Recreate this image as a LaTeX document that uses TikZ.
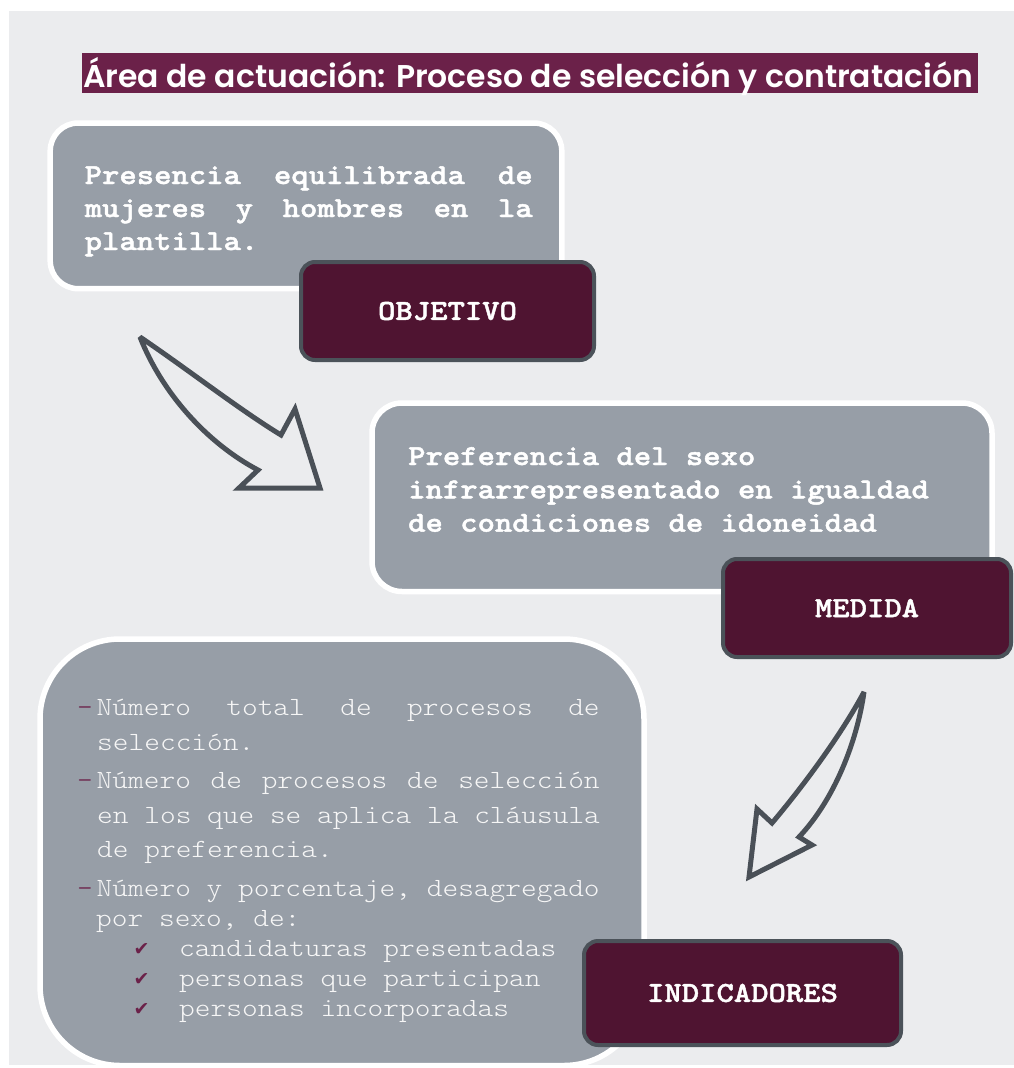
\documentclass[tikz,border=0pt]{standalone}
\usepackage{fontspec}
\usepackage{graphicx}
\newfontfamily\mono{lmmonolt10-regular.otf}[BoldFont=lmmonolt10-bold.otf, BoldFeatures={FakeBold=1.6}, FakeStretch=1.14]
\newfontfamily\symf{DejaVu Sans}
\IfFontExistsTF{Poppins SemiBold}{\newfontfamily\titlefont{Poppins SemiBold}}{%
  \IfFontExistsTF{Poppins Medium}{\newfontfamily\titlefont{Poppins Medium}}{\newfontfamily\titlefont{Poppins}}}
\definecolor{bggray}{HTML}{EBECEE}
\definecolor{boxgray}{HTML}{979EA7}
\definecolor{titlefill}{HTML}{6B2149}
\definecolor{lblfill}{HTML}{4F1431}
\definecolor{lblborder}{HTML}{4B5259}
\definecolor{arrowgray}{HTML}{4A5057}
\definecolor{lighttext}{HTML}{F6F6F6}
\begin{document}
\begin{tikzpicture}[x=1pt,y=-1pt,
  lbl/.style={draw=lblborder, line width=4pt, fill=lblfill, rounded corners=14pt, inner sep=0pt, text=white, font=\mono\bfseries\fontsize{29}{33}\selectfont},
  txtbox/.style={draw=white, line width=5.5pt, fill=boxgray, inner sep=0pt},
  boldtxt/.style={anchor=base west, inner sep=0pt, text=white, font=\mono\bfseries\fontsize{29}{33}\selectfont},
  regtxt/.style={anchor=base west, inner sep=0pt, text=lighttext, font=\mono\fontsize{26.25}{30}\selectfont},
  dashb/.style={anchor=base, inner sep=0pt, text=titlefill, font=\mono\fontsize{26.25}{30}\selectfont},
  chk/.style={anchor=base, inner sep=0pt, text=titlefill, font=\symf\fontsize{19}{22}\selectfont},
  blockarrow/.style={draw=arrowgray, line width=5pt, line join=miter, miter limit=3}
]
\useasboundingbox (0,0) rectangle (1014,1068);
\fill[white] (0,0) rectangle (1014,1068);
\fill[bggray] (9,11) rectangle (1014,1065);

% title
\fill[titlefill] (82,53) rectangle (978,93);
\node[anchor=base west, inner sep=0pt, text=white] (title) at (83,87.5)
  {\resizebox{890pt}{!}{\titlefont Área de actuación: Proceso de selección y contratación}};

% box 1 (objetivo)
\node[txtbox, rounded corners=28pt, minimum width=511.6pt, minimum height=165.7pt] (box1) at (306,205.85) {};
\node[boldtxt] (b1l1) at (84.5,184) {\hbox to 448pt{Presencia \hfill equilibrada \hfill de}};
\node[boldtxt] (b1l2) at (84.5,217) {\hbox to 448pt{mujeres \hfill y \hfill hombres \hfill en \hfill la}};
\node[boldtxt] (b1l3) at (84.5,250) {plantilla.};
\node[lbl, minimum width=293pt, minimum height=98pt] (objetivo) at (447.5,311) {OBJETIVO};

% arrow 1
\draw[blockarrow] (140,337) .. controls (190,371) and (240,410) .. (281,435)
  -- (295,409) -- (320,488) -- (239,488) -- (258,470)
  .. controls (207,443) and (162,393) .. cycle;

% box 2 (medida)
\node[txtbox, rounded corners=30pt, minimum width=620pt, minimum height=188.5pt] (box2) at (682,497.25) {};
\node[boldtxt] (b2l1) at (408,465) {Preferencia del sexo};
\node[boldtxt] (b2l2) at (408,498.3) {infrarrepresentado en igualdad};
\node[boldtxt] (b2l3) at (408,531.7) {de condiciones de idoneidad};
\node[lbl, minimum width=288pt, minimum height=98pt] (medida) at (867,608) {MEDIDA};

% arrow 2
\draw[blockarrow] (864,692) .. controls (857,742) and (834,800) .. (799,837)
  -- (812,845) -- (749,877) -- (757,809) -- (772,823)
  .. controls (800,790) and (840,737) .. cycle;

% box 3 (indicadores)
\node[txtbox, rounded corners=80pt, minimum width=604pt, minimum height=426.5pt] (box3) at (342,852.25) {};
\node[dashb] (d1) at (85,715.4) {-};
\node[regtxt] (b3l1) at (96.5,715.4) {\hbox to 503pt{Número \hfill total \hfill de \hfill procesos \hfill de}};
\node[regtxt] (b3l2) at (97,750.6) {selección.};
\node[dashb] (d2) at (85,788) {-};
\node[regtxt] (b3l3) at (96.5,788) {\hbox to 503pt{Número \hfill de \hfill procesos \hfill de \hfill selección}};
\node[regtxt] (b3l4) at (97,823.6) {en los que se aplica la cláusula};
\node[regtxt] (b3l5) at (97,857.7) {de preferencia.};
\node[dashb] (d3) at (85,896) {-};
\node[regtxt] (b3l6) at (96.5,896) {\hbox to 503pt{Número \hfill y \hfill porcentaje, \hfill desagregado}};
\node[regtxt] (b3l7) at (96,926) {por sexo, de:};
\node[chk] (c1) at (141.5,955) {✔};
\node[regtxt] (s1) at (179,956.5) {candidaturas presentadas};
\node[chk] (c2) at (141.5,985.2) {✔};
\node[regtxt] (s2) at (179,986.7) {personas que participan};
\node[chk] (c3) at (141.5,1015.3) {✔};
\node[regtxt] (s3) at (179,1016.8) {personas incorporadas};
\node[lbl, minimum width=317pt, minimum height=104pt] (indicadores) at (742.5,993) {INDICADORES};
\end{tikzpicture}
\end{document}
